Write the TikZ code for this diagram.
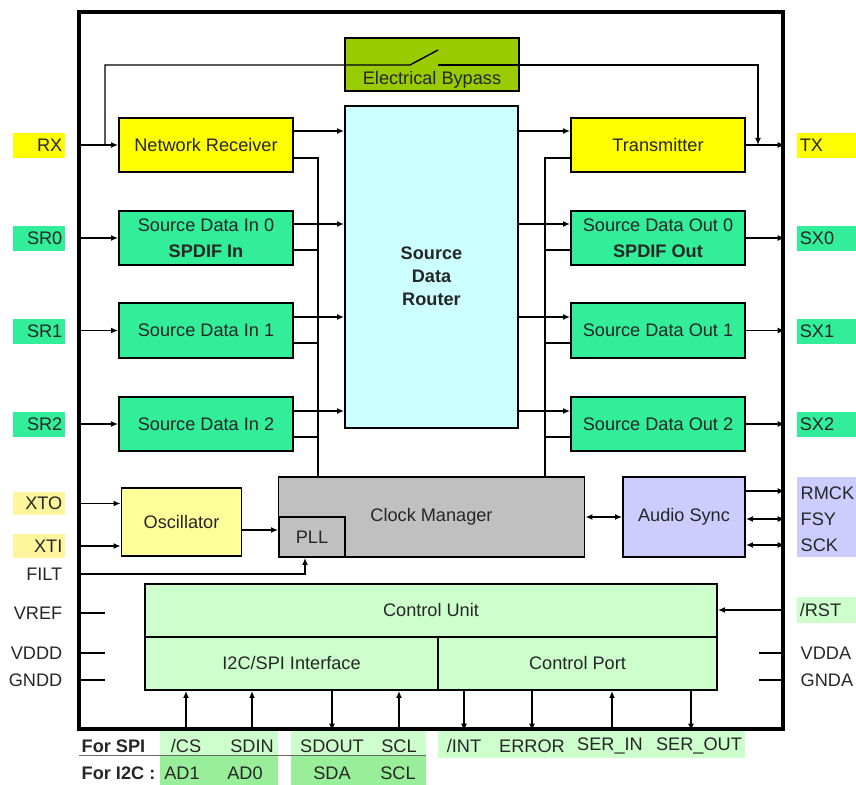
\documentclass[tikz,border=0pt]{standalone}
\usepackage{fontspec}
\setmainfont{Liberation Sans}
\usetikzlibrary{arrows.meta}

\definecolor{pinyel}{HTML}{FFFF00}
\definecolor{pinpale}{HTML}{FFF59D}
\definecolor{oscyel}{HTML}{FFFF99}
\definecolor{sdgreen}{HTML}{33EE99}
\definecolor{bypgreen}{HTML}{99CC00}
\definecolor{routcyan}{HTML}{CCFFFF}
\definecolor{clkgray}{HTML}{C0C0C0}
\definecolor{lav}{HTML}{CCCCFF}
\definecolor{cugreen}{HTML}{CCFFCC}
\definecolor{botgreen}{HTML}{99EE99}

\tikzset{
    blk/.style={draw, line width=1.5pt, inner sep=2pt, align=center},
    pinl/.style={text width=1.4cm, align=right, inner xsep=0.08cm, minimum height=0.75cm},
    pinr/.style={text width=1.6cm, align=left, inner xsep=0.09cm, minimum height=0.75cm},
    pintxt/.style={inner sep=0pt},
}

\begin{document}
\begin{tikzpicture}[x=0.03cm, y=-0.03cm, line width=1.2pt, >={Latex[length=6pt,width=5pt]},
    font=\fontsize{15.5}{18}\selectfont, text=black!85]
    \useasboundingbox (0,0) rectangle (856,785);
    % pin strips below the chip
    \fill[cugreen] (160,729) rectangle (278,755);
    \fill[botgreen] (160,755) rectangle (278,785);
    \fill[cugreen] (291,729) rectangle (426,755);
    \fill[botgreen] (291,755) rectangle (426,785);
    \fill[cugreen] (438,729) rectangle (745,758);
    \draw[black!60, line width=0.8pt] (79,755) -- (426,755);
    \node (chip) [draw, line width=3pt, minimum width=21.12cm, minimum height=21.51cm] at (431,370.5) {};
    % left pins
    \node (rx) [pinl, fill=pinyel] at (39,145) {RX};
    \node (sr0) [pinl, fill=sdgreen] at (39,238) {SR0};
    \node (sr1) [pinl, fill=sdgreen] at (39,331) {SR1};
    \node (sr2) [pinl, fill=sdgreen] at (39,424) {SR2};
    \node (xto) [pinl, fill=pinpale, minimum height=0.69cm] at (39,503.5) {XTO};
    \node (xti) [pinl, fill=pinpale, minimum height=0.72cm] at (39,546) {XTI};
    \node (filt) [pintxt, anchor=east] at (63,574) {FILT};
    \node (vref) [pintxt, anchor=east] at (63,613) {VREF};
    \node (vddd) [pintxt, anchor=east] at (63,653) {VDDD};
    \node (gndd) [pintxt, anchor=east] at (63,680) {GNDD};
    % right pins
    \node (tx) [pinr, fill=pinyel] at (826.5,145) {TX};
    \node (sx0) [pinr, fill=sdgreen] at (826.5,238) {SX0};
    \node (sx1) [pinr, fill=sdgreen] at (826.5,331) {SX1};
    \node (sx2) [pinr, fill=sdgreen] at (826.5,424) {SX2};
    \node (aspin) [fill=lav, minimum width=1.77cm, minimum height=2.4cm] at (826.5,517) {};
    \node (rmck) [pintxt, anchor=west] at (800,493) {RMCK};
    \node (fsy) [pintxt, anchor=west] at (800,519) {FSY};
    \node (sck) [pintxt, anchor=west] at (800,545) {SCK};
    \node (rst) [pinr, fill=cugreen, minimum height=0.78cm] at (826.5,610) {/RST};
    \node (vdda) [pintxt, anchor=west] at (800,653) {VDDA};
    \node (gnda) [pintxt, anchor=west] at (800,680) {GNDA};
    % blocks
    \node (byp) [blk, fill=bypgreen, minimum width=5.22cm, minimum height=1.59cm] at (432,64.5) {};
    \node (bypt) at (432,80) {Electrical Bypass};
    \node (nr) [blk, fill=pinyel, minimum width=5.22cm, minimum height=1.62cm] at (206,145) {Network Receiver};
    \node (sdi0) [blk, fill=sdgreen, minimum width=5.22cm, minimum height=1.62cm] at (206,238) {Source Data In 0\\[4pt]\textbf{SPDIF In}};
    \node (sdi1) [blk, fill=sdgreen, minimum width=5.22cm, minimum height=1.65cm] at (206,330.5) {Source Data In 1};
    \node (sdi2) [blk, fill=sdgreen, minimum width=5.22cm, minimum height=1.62cm] at (206,424) {Source Data In 2};
    \node (router) [blk, fill=routcyan, minimum width=5.19cm, minimum height=9.66cm] at (431.5,267) {};
    \node (routert) [align=center, font=\fontsize{15.5}{19.5}\selectfont\bfseries] at (431.5,276) {Source\\Data\\Router};
    \node (txb) [blk, fill=pinyel, minimum width=5.22cm, minimum height=1.62cm] at (658,145) {Transmitter};
    \node (sdo0) [blk, fill=sdgreen, minimum width=5.22cm, minimum height=1.62cm] at (658,238) {Source Data Out 0\\[4pt]\textbf{SPDIF Out}};
    \node (sdo1) [blk, fill=sdgreen, minimum width=5.22cm, minimum height=1.65cm] at (658,330.5) {Source Data Out 1};
    \node (sdo2) [blk, fill=sdgreen, minimum width=5.22cm, minimum height=1.62cm] at (658,424) {Source Data Out 2};
    \node (osc) [blk, fill=oscyel, minimum width=3.6cm, minimum height=2.04cm] at (181.5,522) {Oscillator};
    \node (clk) [blk, fill=clkgray, minimum width=9.18cm, minimum height=2.4cm] at (431.5,517) {Clock Manager};
    \node (pll) [blk, fill=clkgray, minimum width=1.98cm, minimum height=1.2cm] at (312,537) {PLL};
    \node (as) [blk, fill=lav, minimum width=3.66cm, minimum height=2.4cm] at (684,517) {Audio Sync};
    \node (cu) [blk, fill=cugreen, minimum width=17.16cm, minimum height=1.59cm] at (431,610.5) {Control Unit};
    \node (i2c) [blk, fill=cugreen, minimum width=8.79cm, minimum height=1.59cm] at (291.5,663.5) {I2C/SPI Interface};
    \node (cp) [blk, fill=cugreen, minimum width=8.37cm, minimum height=1.59cm] at (577.5,663.5) {Control Port};
    % bottom pin names
    \node (forspi) [pintxt, anchor=west] at (81,746) {\textbf{For SPI}};
    \node (fori2c) [pintxt, anchor=west] at (81,773) {\textbf{For I2C :}};
    \node (cs) at (186,746) {/CS};
    \node (sdin) at (252,746) {SDIN};
    \node (sdout) at (332,746) {SDOUT};
    \node (sclspi) at (399,746) {SCL};
    \node (ad1) at (182,773) {AD1};
    \node (ad0) at (245,773) {AD0};
    \node (sda) at (332,773) {SDA};
    \node (scli2c) at (398,773) {SCL};
    \node (int) at (464,746) {/INT};
    \node (error) at (532,746) {ERROR};
    \node (serin) at (610,746) {SER\_IN};
    \node (serout) at (699,746) {SER\_OUT};
    % inputs
    \draw[->] (chip.west |- nr.west) -- (nr.west);
    \draw[->] (chip.west |- sdi0.west) -- (sdi0.west);
    \draw[->] (chip.west |- sdi1.west) -- (sdi1.west);
    \draw[->] (chip.west |- sdi2.west) -- (sdi2.west);
    \draw[->] (chip.west |- xto) -- (osc.west |- xto);
    \draw[->] (chip.west |- xti) -- (osc.west |- xti);
    \draw[->] (chip.west |- filt) -| (pll.south -| 305,0);
    \draw (chip.west |- vref) -- ++(28,0);
    \draw (chip.west |- vddd) -- ++(28,0);
    \draw (chip.west |- gndd) -- ++(28,0);
    % electrical bypass
    \coordinate (bpa) at (105,145);
    \coordinate (swa) at (410,65);
    \coordinate (swb) at (438,65);
    \coordinate (bpb) at (758,145);
    \draw (bpa) |- (swa) -- +(28,-15);
    \draw[->] (swb) -| (bpb);
    % into the router
    \draw[->] (nr.east |- 0,131) -- (router.west |- 0,131);
    \draw[->] (sdi0.east |- 0,224) -- (router.west |- 0,224);
    \draw[->] (sdi1.east |- 0,317) -- (router.west |- 0,317);
    \draw[->] (sdi2.east |- 0,411) -- (router.west |- 0,411);
    \coordinate (lbus) at (318,158);
    \draw (nr.east |- lbus) -- (lbus) -- (lbus |- clk.north);
    \draw (sdi0.east |- 0,250) -- (lbus |- 0,250);
    \draw (sdi1.east |- 0,343) -- (lbus |- 0,343);
    \draw (sdi2.east |- 0,437) -- (lbus |- 0,437);
    % out of the router
    \draw[->] (router.east |- 0,131) -- (txb.west |- 0,131);
    \draw[->] (router.east |- 0,224) -- (sdo0.west |- 0,224);
    \draw[->] (router.east |- 0,317) -- (sdo1.west |- 0,317);
    \draw[->] (router.east |- 0,411) -- (sdo2.west |- 0,411);
    \coordinate (rbus) at (545,158);
    \draw (txb.west |- rbus) -- (rbus) -- (rbus |- clk.north);
    \draw (sdo0.west |- 0,250) -- (rbus |- 0,250);
    \draw (sdo1.west |- 0,343) -- (rbus |- 0,343);
    \draw (sdo2.west |- 0,437) -- (rbus |- 0,437);
    % outputs
    \draw[->] (txb.east) -- (chip.east |- txb.east);
    \draw[->] (sdo0.east) -- (chip.east |- sdo0.east);
    \draw[->] (sdo1.east) -- (chip.east |- sdo1.east);
    \draw[->] (sdo2.east) -- (chip.east |- sdo2.east);
    % clocks
    \draw[->] (osc.east |- 0,530) -- (pll.west |- 0,530);
    \draw[<->] (clk.east) -- (as.west);
    \draw[->] (as.east |- 0,491) -- (chip.east |- 0,491);
    \draw[<->] (as.east |- fsy) -- (chip.east |- fsy);
    \draw[<->] (as.east |- sck) -- (chip.east |- sck);
    % control
    \draw[->] (chip.east |- rst) -- (cu.east |- rst);
    \draw (chip.east |- vdda) -- ++(-26,0);
    \draw (chip.east |- gnda) -- ++(-26,0);
    \draw[->] (cs |- chip.south) -- (cs |- i2c.south);
    \draw[->] (sdin |- chip.south) -- (sdin |- i2c.south);
    \draw[->] (sdout |- i2c.south) -- (sdout |- chip.south);
    \draw[->] (sclspi |- chip.south) -- (sclspi |- i2c.south);
    \draw[->] (int |- cp.south) -- (int |- chip.south);
    \draw[->] (error |- cp.south) -- (error |- chip.south);
    \draw[->] (chip.south -| 612,0) -- (cp.south -| 612,0);
    \draw[->] (cp.south -| 691,0) -- (chip.south -| 691,0);
\end{tikzpicture}
\end{document}
